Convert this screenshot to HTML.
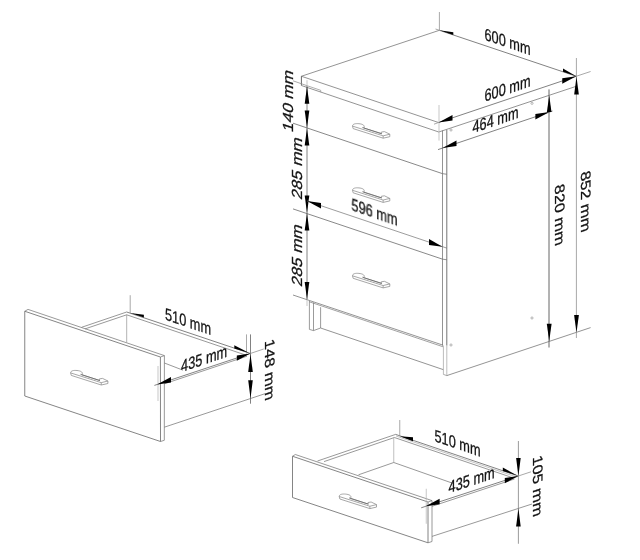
<!DOCTYPE html>
<html><head><meta charset="utf-8"><title>Cabinet dimensions</title>
<style>
html,body{margin:0;padding:0;background:#fff;}
body{width:640px;height:560px;overflow:hidden;font-family:"Liberation Sans",sans-serif;}
svg{display:block;}
text{font-family:"Liberation Sans",sans-serif;}
</style></head><body>
<svg width="640" height="560" viewBox="0 0 640 560">
<rect width="640" height="560" fill="#fff"/>
<path d="M301.40,76.25 L439.40,30.30" stroke="#707070" stroke-width="0.75" fill="none"/>
<path d="M301.40,76.25 L438.50,122.50" stroke="#707070" stroke-width="0.75" fill="none"/>
<path d="M301.40,76.25 L301.40,85.50" stroke="#555" stroke-width="0.9" fill="none"/>
<path d="M301.40,85.50 L438.75,132.00" stroke="#707070" stroke-width="0.75" fill="none"/>
<path d="M438.75,132.00 L576.25,86.30" stroke="#707070" stroke-width="0.75" fill="none"/>
<line x1="439.40" y1="30.30" x2="576.25" y2="76.25" stroke="#585858" stroke-width="0.75"/>
<line x1="438.50" y1="122.50" x2="576.25" y2="76.25" stroke="#585858" stroke-width="0.75"/>
<line x1="435.50" y1="29.00" x2="439.40" y2="30.30" stroke="#8c8c8c" stroke-width="0.75"/>
<line x1="439.40" y1="12.00" x2="439.40" y2="30.30" stroke="#8c8c8c" stroke-width="0.75"/>
<line x1="576.25" y1="76.25" x2="590.60" y2="71.50" stroke="#8c8c8c" stroke-width="0.75"/>
<line x1="434.00" y1="124.20" x2="438.50" y2="122.50" stroke="#8c8c8c" stroke-width="0.75"/>
<line x1="439.00" y1="105.00" x2="439.00" y2="140.60" stroke="#b4b4b4" stroke-width="0.75"/>
<path d="M307.00,85.70 L320.70,90.30 L320.70,92.10" stroke="#8c8c8c" stroke-width="0.7" fill="none"/>
<line x1="293.00" y1="123.20" x2="442.50" y2="173.66" stroke="#626262" stroke-width="0.75"/>
<line x1="293.00" y1="208.90" x2="442.50" y2="259.16" stroke="#626262" stroke-width="0.75"/>
<line x1="293.00" y1="295.00" x2="443.00" y2="345.16" stroke="#707070" stroke-width="0.75"/>
<line x1="309.00" y1="301.70" x2="443.00" y2="346.76" stroke="#999" stroke-width="0.9"/>
<line x1="293.00" y1="80.80" x2="307.00" y2="85.70" stroke="#8c8c8c" stroke-width="0.75"/>
<line x1="307.00" y1="86.20" x2="307.00" y2="299.50" stroke="#585858" stroke-width="0.75"/>
<line x1="307.00" y1="80.20" x2="307.00" y2="86.20" stroke="#b4b4b4" stroke-width="0.75"/>
<line x1="307.00" y1="299.50" x2="307.00" y2="306.00" stroke="#b4b4b4" stroke-width="0.75"/>
<line x1="442.50" y1="130.50" x2="442.50" y2="345.50" stroke="#707070" stroke-width="0.75"/>
<line x1="446.80" y1="129.80" x2="446.80" y2="345.50" stroke="#5c5c5c" stroke-width="0.85"/>
<line x1="443.40" y1="345.50" x2="443.40" y2="374.40" stroke="#a5a5a5" stroke-width="0.75"/>
<line x1="446.80" y1="345.50" x2="446.80" y2="375.60" stroke="#a5a5a5" stroke-width="0.75"/>
<line x1="443.40" y1="374.40" x2="446.80" y2="375.60" stroke="#909090" stroke-width="0.75"/>
<line x1="446.80" y1="375.60" x2="590.60" y2="327.60" stroke="#707070" stroke-width="0.75"/>
<path d="M309.40,301.00 L309.40,329.40 L313.50,330.60 L320.60,328.00 L320.60,307.20" stroke="#7a7a7a" stroke-width="0.75" fill="none"/>
<line x1="313.50" y1="302.50" x2="313.50" y2="330.60" stroke="#7a7a7a" stroke-width="0.75"/>
<line x1="320.60" y1="328.00" x2="443.20" y2="369.60" stroke="#707070" stroke-width="0.75"/>
<line x1="442.50" y1="173.66" x2="446.80" y2="174.26" stroke="#707070" stroke-width="0.75"/>
<line x1="442.50" y1="259.16" x2="446.80" y2="259.76" stroke="#707070" stroke-width="0.75"/>
<circle cx="451" cy="130" r="1.1" stroke="#888" stroke-width="0.6" fill="none"/>
<circle cx="532" cy="103.3" r="1.1" stroke="#888" stroke-width="0.6" fill="none"/>
<circle cx="451" cy="345" r="1.1" stroke="#888" stroke-width="0.6" fill="none"/>
<circle cx="532" cy="318" r="1.1" stroke="#888" stroke-width="0.6" fill="none"/>
<path d="M352.50,126.10 C352.50,123.80 355.90,123.40 358.90,123.70 C362.40,124.00 364.50,125.20 364.20,126.80 L363.80,128.00 M352.50,126.10 L383.15,135.85 M352.50,126.10 L353.15,128.60 L383.15,138.20 L389.80,136.70 L389.80,134.20 L384.40,131.60 L381.30,132.10 M363.80,128.00 L381.30,133.60 L381.30,132.10 M383.15,135.85 L383.15,138.20 M383.15,135.85 L389.80,134.20" stroke="#8a8a8a" stroke-width="0.75" fill="none" stroke-linejoin="round"/>
<path d="M362.40,127.50 L381.90,133.80" stroke="#666" stroke-width="0.8" fill="none"/>
<path d="M352.50,190.30 C352.50,188.00 355.90,187.60 358.90,187.90 C362.40,188.20 364.50,189.40 364.20,191.00 L363.80,192.20 M352.50,190.30 L383.15,200.05 M352.50,190.30 L353.15,192.80 L383.15,202.40 L389.80,200.90 L389.80,198.40 L384.40,195.80 L381.30,196.30 M363.80,192.20 L381.30,197.80 L381.30,196.30 M383.15,200.05 L383.15,202.40 M383.15,200.05 L389.80,198.40" stroke="#8a8a8a" stroke-width="0.75" fill="none" stroke-linejoin="round"/>
<path d="M362.40,191.70 L381.90,198.00" stroke="#666" stroke-width="0.8" fill="none"/>
<path d="M352.50,275.80 C352.50,273.50 355.90,273.10 358.90,273.40 C362.40,273.70 364.50,274.90 364.20,276.50 L363.80,277.70 M352.50,275.80 L383.15,285.55 M352.50,275.80 L353.15,278.30 L383.15,287.90 L389.80,286.40 L389.80,283.90 L384.40,281.30 L381.30,281.80 M363.80,277.70 L381.30,283.30 L381.30,281.80 M383.15,285.55 L383.15,287.90 M383.15,285.55 L389.80,283.90" stroke="#8a8a8a" stroke-width="0.75" fill="none" stroke-linejoin="round"/>
<path d="M362.40,277.20 L381.90,283.50" stroke="#666" stroke-width="0.8" fill="none"/>
<path d="M307.00,86.20 L304.70,103.70 L309.30,103.70 Z" fill="#000"/>
<path d="M307.00,128.00 L304.70,110.50 L309.30,110.50 Z" fill="#000"/>
<path d="M307.00,128.00 L304.70,145.50 L309.30,145.50 Z" fill="#000"/>
<path d="M307.00,213.00 L304.70,195.50 L309.30,195.50 Z" fill="#000"/>
<path d="M307.00,213.00 L304.70,230.50 L309.30,230.50 Z" fill="#000"/>
<path d="M307.00,299.50 L304.70,282.00 L309.30,282.00 Z" fill="#000"/>
<line x1="307.00" y1="201.00" x2="447.00" y2="248.18" stroke="#7c7c7c" stroke-width="0.75"/>
<path d="M307.00,201.00 L321.00,202.92 L321.00,208.52 Z" fill="#000"/>
<path d="M442.50,246.66 L429.00,239.11 L429.00,245.11 Z" fill="#000"/>
<line x1="438.00" y1="149.60" x2="552.50" y2="111.00" stroke="#585858" stroke-width="0.75"/>
<path d="M442.50,148.00 L456.50,140.48 L456.50,146.08 Z" fill="#000"/>
<path d="M549.40,112.00 L535.40,113.92 L535.40,119.52 Z" fill="#000"/>
<line x1="549.00" y1="89.40" x2="549.00" y2="347.50" stroke="#666" stroke-width="1.0"/>
<line x1="576.40" y1="58.00" x2="576.40" y2="338.00" stroke="#8a8a8a" stroke-width="0.75"/>
<path d="M549.20,95.60 L546.90,112.10 L551.50,112.10 Z" fill="#000"/>
<path d="M549.20,341.20 L546.80,323.70 L551.60,323.70 Z" fill="#000"/>
<path d="M576.50,76.50 L574.20,94.50 L578.80,94.50 Z" fill="#000"/>
<path d="M576.50,332.50 L574.10,315.00 L578.90,315.00 Z" fill="#000"/>
<path d="M439.40,30.30 L453.30,32.20 L453.30,35.00 Z" fill="#000"/>
<path d="M576.25,76.25 L563.00,68.60 L563.00,71.80 Z" fill="#000"/>
<path d="M438.50,122.50 L452.50,115.00 L452.50,120.60 Z" fill="#000"/>
<path d="M576.25,76.25 L562.25,78.15 L562.25,83.75 Z" fill="#000"/>
<path d="M24.75,311.25 L160.40,357.00 L160.50,441.50 L24.75,396.00 Z" stroke="#777" stroke-width="0.9" fill="none"/>
<path d="M24.75,311.25 L28.00,309.40 L164.40,355.60 L164.30,440.30 L160.50,441.50" stroke="#777" stroke-width="0.75" fill="none"/>
<line x1="160.40" y1="357.00" x2="164.40" y2="355.60" stroke="#777" stroke-width="0.75"/>
<line x1="126.70" y1="312.00" x2="81.60" y2="327.30" stroke="#777" stroke-width="0.75"/>
<line x1="126.70" y1="314.80" x2="85.00" y2="328.90" stroke="#777" stroke-width="0.75"/>
<line x1="126.70" y1="314.80" x2="126.70" y2="342.50" stroke="#999" stroke-width="0.75"/>
<line x1="126.70" y1="312.00" x2="250.30" y2="353.50" stroke="#585858" stroke-width="0.75"/>
<line x1="126.70" y1="314.80" x2="245.50" y2="355.00" stroke="#777" stroke-width="0.75"/>
<line x1="154.40" y1="385.40" x2="250.30" y2="353.50" stroke="#585858" stroke-width="0.75"/>
<line x1="164.40" y1="383.80" x2="247.00" y2="356.20" stroke="#777" stroke-width="0.75"/>
<line x1="164.40" y1="363.00" x2="183.00" y2="370.20" stroke="#777" stroke-width="0.75"/>
<line x1="164.30" y1="427.20" x2="265.00" y2="393.70" stroke="#777" stroke-width="0.75"/>
<line x1="130.20" y1="295.20" x2="130.20" y2="313.00" stroke="#8c8c8c" stroke-width="0.75"/>
<line x1="246.50" y1="334.40" x2="246.50" y2="353.50" stroke="#8c8c8c" stroke-width="0.75"/>
<line x1="250.50" y1="334.40" x2="250.50" y2="403.70" stroke="#585858" stroke-width="0.75"/>
<line x1="250.30" y1="353.50" x2="263.70" y2="349.00" stroke="#8c8c8c" stroke-width="0.75"/>
<line x1="158.00" y1="366.00" x2="158.00" y2="401.00" stroke="#b4b4b4" stroke-width="0.75"/>
<path d="M130.20,313.00 L143.90,314.80 L143.90,317.60 Z" fill="#000"/>
<path d="M249.30,353.10 L234.30,345.30 L234.30,348.50 Z" fill="#000"/>
<path d="M157.00,384.40 L171.00,376.88 L171.00,382.48 Z" fill="#000"/>
<path d="M250.30,353.50 L236.80,355.45 L236.80,360.65 Z" fill="#000"/>
<path d="M250.50,354.00 L248.20,372.00 L252.80,372.00 Z" fill="#000"/>
<path d="M250.50,398.20 L248.20,380.20 L252.80,380.20 Z" fill="#000"/>
<path d="M70.60,372.90 C70.60,370.60 74.00,370.20 77.00,370.50 C80.50,370.80 82.60,372.00 82.30,373.60 L81.90,374.80 M70.60,372.90 L101.25,382.65 M70.60,372.90 L71.25,375.40 L101.25,385.00 L107.90,383.50 L107.90,381.00 L102.50,378.40 L99.40,378.90 M81.90,374.80 L99.40,380.40 L99.40,378.90 M101.25,382.65 L101.25,385.00 M101.25,382.65 L107.90,381.00" stroke="#8a8a8a" stroke-width="0.75" fill="none" stroke-linejoin="round"/>
<path d="M80.50,374.30 L100.00,380.60" stroke="#666" stroke-width="0.8" fill="none"/>
<path d="M292.50,456.25 L428.00,502.00 L428.00,542.80 L292.50,497.50 Z" stroke="#777" stroke-width="0.9" fill="none"/>
<path d="M292.50,456.25 L295.30,454.50 L432.00,500.60 L432.00,541.50 L428.00,542.80" stroke="#777" stroke-width="0.75" fill="none"/>
<line x1="428.00" y1="502.00" x2="432.00" y2="500.60" stroke="#777" stroke-width="0.75"/>
<line x1="395.60" y1="434.40" x2="317.50" y2="461.00" stroke="#777" stroke-width="0.75"/>
<line x1="394.40" y1="437.50" x2="324.00" y2="461.60" stroke="#777" stroke-width="0.75"/>
<line x1="395.60" y1="434.40" x2="518.30" y2="476.00" stroke="#585858" stroke-width="0.75"/>
<line x1="394.40" y1="437.50" x2="513.50" y2="478.00" stroke="#777" stroke-width="0.75"/>
<line x1="396.00" y1="436.00" x2="516.50" y2="477.00" stroke="#aaa" stroke-width="0.7"/>
<line x1="393.75" y1="437.50" x2="393.75" y2="462.50" stroke="#aaa" stroke-width="0.75"/>
<line x1="393.75" y1="462.50" x2="358.50" y2="474.80" stroke="#777" stroke-width="0.75"/>
<line x1="393.75" y1="462.50" x2="452.00" y2="483.00" stroke="#777" stroke-width="0.75"/>
<line x1="421.20" y1="507.80" x2="518.30" y2="476.00" stroke="#585858" stroke-width="0.75"/>
<line x1="432.00" y1="506.30" x2="514.50" y2="479.00" stroke="#777" stroke-width="0.75"/>
<line x1="432.00" y1="536.40" x2="532.00" y2="504.00" stroke="#777" stroke-width="0.75"/>
<line x1="399.75" y1="420.00" x2="399.75" y2="436.25" stroke="#8c8c8c" stroke-width="0.75"/>
<line x1="426.25" y1="488.75" x2="426.25" y2="523.75" stroke="#b4b4b4" stroke-width="0.75"/>
<line x1="518.40" y1="441.00" x2="518.40" y2="543.75" stroke="#7a7a7a" stroke-width="0.75"/>
<line x1="518.30" y1="476.00" x2="531.00" y2="471.80" stroke="#8c8c8c" stroke-width="0.75"/>
<path d="M399.75,436.25 L413.00,437.20 L413.00,441.20 Z" fill="#000"/>
<path d="M517.30,475.60 L502.80,467.60 L502.80,471.00 Z" fill="#000"/>
<path d="M425.60,506.25 L439.60,498.73 L439.60,504.33 Z" fill="#000"/>
<path d="M518.30,476.00 L504.80,477.95 L504.80,483.15 Z" fill="#000"/>
<path d="M518.40,476.00 L516.10,458.00 L520.70,458.00 Z" fill="#000"/>
<path d="M518.40,508.40 L516.10,526.40 L520.70,526.40 Z" fill="#000"/>
<path d="M339.20,496.50 C339.20,494.20 342.60,493.80 345.60,494.10 C349.10,494.40 351.20,495.60 350.90,497.20 L350.50,498.40 M339.20,496.50 L369.85,506.25 M339.20,496.50 L339.85,499.00 L369.85,508.60 L376.50,507.10 L376.50,504.60 L371.10,502.00 L368.00,502.50 M350.50,498.40 L368.00,504.00 L368.00,502.50 M369.85,506.25 L369.85,508.60 M369.85,506.25 L376.50,504.60" stroke="#8a8a8a" stroke-width="0.75" fill="none" stroke-linejoin="round"/>
<path d="M349.10,497.90 L368.60,504.20" stroke="#666" stroke-width="0.8" fill="none"/>
<g opacity="0.99">
<text transform="matrix(0.7500,0.2530,0.0000,1.0000,507.50,47.50)" font-size="17" text-anchor="middle" fill="#111" stroke="#111" stroke-width="0.3">600 mm</text>
<text transform="matrix(0.7500,-0.2530,0.0000,1.0000,507.50,94.00)" font-size="17" text-anchor="middle" fill="#111" stroke="#111" stroke-width="0.3">600 mm</text>
<text transform="matrix(0.7500,-0.2530,0.0000,1.0000,495.50,125.50)" font-size="17" text-anchor="middle" fill="#111" stroke="#111" stroke-width="0.3">464 mm</text>
<text transform="matrix(0.7500,0.2530,0.0000,1.0000,374.50,218.00)" font-size="17" text-anchor="middle" fill="#111" stroke="#111" stroke-width="0.3">596 mm</text>
<text transform="matrix(0.0000,-1.0000,0.8600,0.2900,293.30,102.30)" font-size="17" text-anchor="middle" fill="#111" stroke="#111" stroke-width="0.3">140 mm</text>
<text transform="matrix(0.0000,-1.0000,0.8600,0.2900,302.00,169.50)" font-size="17" text-anchor="middle" fill="#111" stroke="#111" stroke-width="0.3">285 mm</text>
<text transform="matrix(0.0000,-1.0000,0.8600,0.2900,302.00,256.50)" font-size="17" text-anchor="middle" fill="#111" stroke="#111" stroke-width="0.3">285 mm</text>
<text transform="matrix(0.0000,1.0000,-0.8200,0.2700,554.60,216.40)" font-size="16.8" text-anchor="middle" fill="#111" stroke="#111" stroke-width="0.3">820 mm</text>
<text transform="matrix(0.0000,1.0000,-0.8200,0.2700,580.80,203.00)" font-size="16.8" text-anchor="middle" fill="#111" stroke="#111" stroke-width="0.3">852 mm</text>
<text transform="matrix(0.7500,0.2530,0.0000,1.0000,188.00,327.30)" font-size="17" text-anchor="middle" fill="#111" stroke="#111" stroke-width="0.3">510 mm</text>
<text transform="matrix(0.7500,-0.2530,0.0000,1.0000,204.10,364.40)" font-size="17" text-anchor="middle" fill="#111" stroke="#111" stroke-width="0.3">435 mm</text>
<text transform="matrix(0.0000,1.0000,-0.8200,0.2700,265.30,371.20)" font-size="16.8" text-anchor="middle" fill="#111" stroke="#111" stroke-width="0.3">148 mm</text>
<text transform="matrix(0.7500,0.2530,0.0000,1.0000,457.50,449.00)" font-size="17" text-anchor="middle" fill="#111" stroke="#111" stroke-width="0.3">510 mm</text>
<text transform="matrix(0.7500,-0.2530,0.0000,1.0000,471.60,485.60)" font-size="17" text-anchor="middle" fill="#111" stroke="#111" stroke-width="0.3">435 mm</text>
<text transform="matrix(0.0000,1.0000,-0.8200,0.2700,532.80,487.50)" font-size="16.8" text-anchor="middle" fill="#111" stroke="#111" stroke-width="0.3">105 mm</text>
</g>
</svg>
</body></html>
